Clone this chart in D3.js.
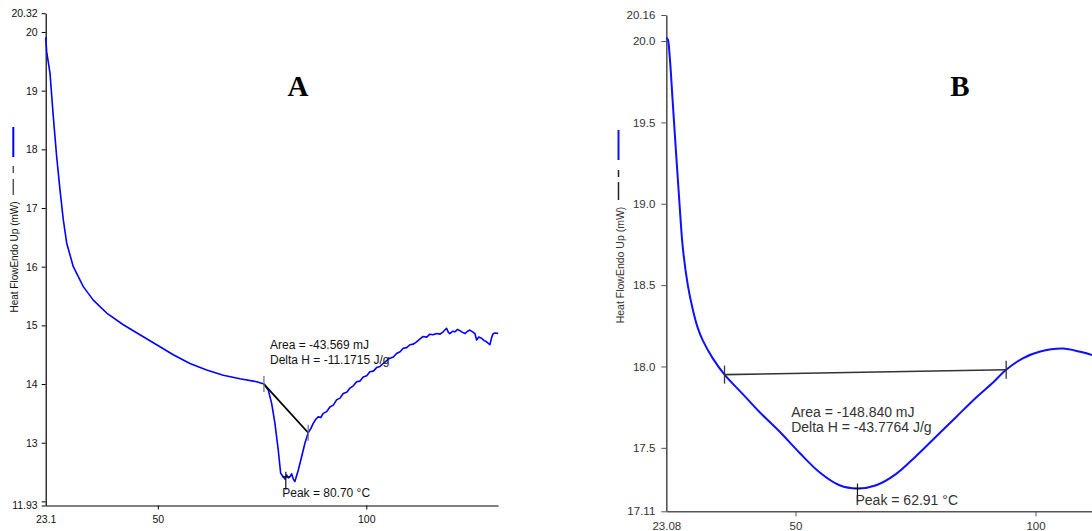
<!DOCTYPE html>
<html><head><meta charset="utf-8">
<script src="https://cdn.jsdelivr.net/npm/d3@7"></script>
<style>
html,body{margin:0;padding:0;background:#fff;}
svg{display:block;font-family:"Liberation Sans",Arial,sans-serif;}
</style></head>
<body>
<svg id="c" width="1092" height="531"></svg>
<script>
// ---------- Panel A data ----------
const tempA = [23.1, 23.34, 24.13, 24.92, 25.74, 26.53, 27.32, 28.14, 29.72, 32.12, 34.51, 37.73, 41.71, 45.71, 49.72, 53.70, 57.70, 61.71, 65.69, 69.69, 73.70, 75.45, 76.48, 77.30, 78.09, 78.88, 79.46, 80.08, 80.5, 80.89, 81.3, 81.68, 82.09, 82.5, 82.88, 83.68, 84.49, 85.28, 86.07, 86.7, 87.27, 87.9, 88.47, 89.1, 89.67, 90.5, 91.28, 92.1, 92.88, 93.7, 94.47, 95.3, 96.07, 96.9, 97.68, 98.5, 99.26, 100.1, 100.87, 101.7, 102.48, 103.3, 104.06, 104.9, 105.67, 106.5, 107.27, 108.1, 108.86, 109.7, 110.47, 111.3, 112.07, 112.9, 113.65, 114.5, 115.26, 116.0, 116.87, 117.7, 118.45, 119.26, 119.7, 120.06, 120.7, 121.26, 121.9, 122.46, 123.1, 123.66, 124.3, 124.86, 125.5, 126.06, 126.47, 127.0, 127.66, 128.3, 128.86, 129.65, 130.1, 130.45, 131.0, 131.65];
const flowA = [19.91, 19.66, 19.30, 18.56, 17.87, 17.31, 16.80, 16.40, 16.00, 15.66, 15.43, 15.21, 15.01, 14.84, 14.67, 14.50, 14.35, 14.24, 14.15, 14.09, 14.04, 14.00, 13.90, 13.67, 13.33, 12.88, 12.48, 12.42, 12.38, 12.45, 12.40, 12.42, 12.47, 12.38, 12.34, 12.53, 12.76, 12.99, 13.17, 13.24, 13.33, 13.40, 13.44, 13.43, 13.50, 13.53, 13.61, 13.64, 13.73, 13.76, 13.84, 13.86, 13.93, 13.97, 14.04, 14.05, 14.12, 14.14, 14.21, 14.22, 14.28, 14.30, 14.35, 14.40, 14.44, 14.46, 14.52, 14.55, 14.61, 14.62, 14.67, 14.68, 14.72, 14.77, 14.81, 14.80, 14.85, 14.84, 14.86, 14.85, 14.89, 14.95, 14.88, 14.86, 14.90, 14.89, 14.93, 14.91, 14.88, 14.86, 14.90, 14.92, 14.89, 14.86, 14.75, 14.80, 14.78, 14.74, 14.72, 14.67, 14.80, 14.86, 14.87, 14.86];
const yTicksA = [12, 13, 14, 15, 16, 17, 18, 19, 20];
const yEndsA = [11.93, 20.32];
const xTicksA = [50, 100];
const xStartA = 23.1;
const baseA = {t: [75.45, 86.07], v: [14.00, 13.17]};
const peakA = {t: 80.70, v: 12.42, label: "Peak = 80.70 °C"};
const textA = ["Area = -43.569 mJ", "Delta H = -11.1715 J/g"];

// ---------- Panel B data ----------
const tempB = [23.08, 23.39, 23.75, 24.43, 25.14, 25.83, 26.52, 27.56, 28.60, 29.6, 30.68, 32.77, 35.21, 39.02, 42.50, 46.67, 50.83, 55.00, 59.17, 62.91, 66.81, 70.98, 75.14, 79.31, 83.48, 87.64, 91.10, 93.89, 97.35, 100.81, 105.66, 109.33, 111.83, 115];
const flowB = [20.02, 20.01, 19.92, 19.62, 19.30, 19.00, 18.73, 18.50, 18.35, 18.24, 18.16, 18.05, 17.95, 17.83, 17.72, 17.60, 17.47, 17.35, 17.27, 17.25, 17.27, 17.34, 17.45, 17.57, 17.69, 17.81, 17.90, 17.98, 18.05, 18.09, 18.11, 18.09, 18.07, 18.03];
const yTicksB = [17.5, 18.0, 18.5, 19.0, 19.5, 20.0];
const yEndsB = [17.11, 20.16];
const xTicksB = [50, 100];
const xStartB = 23.08;
const baseB = {t: [35.21, 93.89], v: [17.95, 17.98]};
const peakB = {t: 62.91, v: 17.25, label: "Peak = 62.91 °C"};
const textB = ["Area = -148.840 mJ", "Delta H = -43.7764 J/g"];

const yTitle = "Heat FlowEndo Up (mW)";

const svg = d3.select("#c");

function panel(o) {
  const g = svg.append("g");
  const x = d3.scaleLinear().domain(o.xDom).range(o.xRange);
  const y = d3.scaleLinear().domain(o.yDom).range(o.yRange);

  const ya = g.append("g").attr("transform", `translate(${o.xRange[0]},0)`)
    .call(d3.axisLeft(y).tickValues(o.yTicks.concat(o.yEnds))
      .tickFormat(d => o.yEnds.includes(d) ? d3.format(".2f")(d) : o.lab(d))
      .tickSize(o.tick).tickPadding(o.pad).tickSizeOuter(0));
  const xa = g.append("g").attr("transform", `translate(0,${o.yRange[0]})`)
    .call(d3.axisBottom(x).tickValues([o.xStart].concat(o.xTicks))
      .tickFormat(d => String(d))
      .tickSize(o.tick).tickPadding(o.xpad).tickSizeOuter(0));
  [ya, xa].forEach(a => {
    a.selectAll("path").attr("stroke", o.axisColor).attr("stroke-width", o.axisW);
    a.selectAll("line").attr("stroke", o.axisColor);
    a.selectAll("text").attr("fill", o.textColor).style("font-size", o.tickFont + "px")
      .style("font-family", '"Liberation Sans", Arial, sans-serif');
  });
  xa.selectAll(".tick").filter(d => d === o.xStart).select("line").remove();

  const pts = o.t.map((t, i) => [t, o.v[i]]);
  g.append("path").datum(pts)
    .attr("fill", "none").attr("stroke", o.lineColor).attr("stroke-width", o.lineW)
    .attr("stroke-linejoin", "round")
    .attr("d", d3.line().x(d => x(d[0])).y(d => y(d[1])).curve(o.curve));

  g.append("line")
    .attr("x1", x(o.base.t[0])).attr("y1", y(o.base.v[0]))
    .attr("x2", x(o.base.t[1])).attr("y2", y(o.base.v[1]))
    .attr("stroke", o.baseColor).attr("stroke-width", o.baseW);
  o.base.t.forEach((t, i) => {
    g.append("line").attr("x1", x(t)).attr("x2", x(t))
      .attr("y1", y(o.base.v[i]) - o.endTick).attr("y2", y(o.base.v[i]) + o.endTick)
      .attr("stroke", o.endColor).attr("stroke-width", 1.3);
  });
  const px = x(o.peak.t), py = y(o.peak.v);
  g.append("line").attr("x1", px).attr("x2", px).attr("y1", py - 5).attr("y2", py + 13)
    .attr("stroke", "#111").attr("stroke-width", 1.2);
  g.append("line").attr("x1", px - 4).attr("x2", px + 4).attr("y1", py).attr("y2", py)
    .attr("stroke", "#111").attr("stroke-width", 1.2);
  g.append("text").attr("x", x(o.peakText[0])).attr("y", y(o.peakText[1]))
    .attr("dy", "0.35em").style("font-size", o.annFont + "px").attr("fill", o.annColor)
    .text(o.peak.label);
  o.text.forEach((s, i) => {
    g.append("text").attr("x", x(o.areaText[0])).attr("y", y(o.areaText[1][i]))
      .attr("dy", "0.35em").style("font-size", o.annFont + "px").attr("fill", o.annColor).text(s);
  });

  g.append("text").attr("transform", `translate(${o.titleX},${o.titleY}) rotate(-90)`)
    .attr("text-anchor", "middle").attr("dy", "0.35em")
    .style("font-size", o.titleFont + "px").attr("fill", o.textColor).text(yTitle);

  g.append("line").attr("x1", o.legX).attr("x2", o.legX).attr("y1", o.legY[0]).attr("y2", o.legY[1])
    .attr("stroke", o.lineColor).attr("stroke-width", 2);
  o.legD.forEach(s => g.append("line").attr("x1", o.legX).attr("x2", o.legX)
    .attr("y1", s[0]).attr("y2", s[1]).attr("stroke", o.legDC).attr("stroke-width", 1.5));

  g.append("text").attr("x", o.letter[1]).attr("y", o.letter[2]).attr("text-anchor", "middle")
    .style("font-family", '"Liberation Serif","Times New Roman",serif')
    .style("font-weight", "bold").style("font-size", "29px").attr("fill", "#000").text(o.letter[0]);
}

panel({
  t: tempA, v: flowA, xDom: [23.1, 131.6], xRange: [45.7, 498], yDom: [11.93, 20.32], yRange: [505.5, 13.2],
  yTicks: yTicksA, yEnds: yEndsA, lab: d => d === 12 ? "" : String(d), xTicks: xTicksA, xStart: xStartA,
  tick: 4, pad: 4, xpad: 6, axisColor: "#000", axisW: 1.2, textColor: "#111", tickFont: 10.5,
  lineColor: "#0000ff", lineW: 1.6, curve: d3.curveLinear,
  base: baseA, baseColor: "#000", baseW: 1.8, endTick: 8, endColor: "#777",
  peak: peakA, peakText: [79.84, 12.14], text: textA, areaText: [76.9, [14.665, 14.41]],
  annFont: 12, annColor: "#111",
  titleX: 14, titleY: 257, titleFont: 10,
  legX: 13.3, legY: [127, 157], legD: [[166, 173], [179, 195]], legDC: "#555",
  letter: ["A", 298, 96]
});

panel({
  t: tempB, v: flowB, xDom: [23.08, 117.5], xRange: [666.3, 1119.5], yDom: [17.11, 20.16], yRange: [511.3, 15],
  yTicks: yTicksB, yEnds: yEndsB, lab: d => d3.format(".1f")(d), xTicks: xTicksB, xStart: xStartB,
  tick: 5, pad: 6, xpad: 6, axisColor: "#555", axisW: 1.6, textColor: "#333", tickFont: 11.5,
  lineColor: "#1010ff", lineW: 2, curve: d3.curveCatmullRom.alpha(0.5),
  base: baseB, baseColor: "#333", baseW: 1.6, endTick: 9, endColor: "#333",
  peak: peakB, peakText: [62.50, 17.18], text: textB, areaText: [49.10, [17.72, 17.63]],
  annFont: 14, annColor: "#333",
  titleX: 620, titleY: 265, titleFont: 10.5,
  legX: 618.5, legY: [130, 160], legD: [[170, 177], [182, 200]], legDC: "#222",
  letter: ["B", 960, 96]
});
</script>
</body></html>
